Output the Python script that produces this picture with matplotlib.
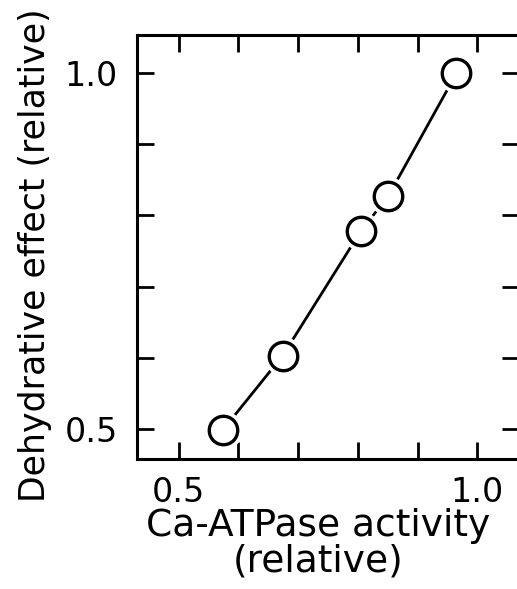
import matplotlib
matplotlib.use("Agg")
import matplotlib.pyplot as plt
from matplotlib.ticker import MultipleLocator, FixedLocator

# relative Ca-ATPase activity vs relative dehydrative effect
atpase = [0.574, 0.674, 0.805, 0.851, 0.965]
dehydr = [0.499, 0.603, 0.778, 0.827, 0.999]
tick_vals = [0.5, 1.0]
tick_labels = ["0.5", "1.0"]

plt.rcParams["font.family"] = "DejaVu Sans"

fig = plt.figure(figsize=(5.17, 5.89), dpi=100)
ax = fig.add_axes([0.265, 0.2207, 0.739, 0.7199])

# line first, then white halo so the line stops short of each circle
ax.plot(atpase, dehydr, color="black", lw=2.0, zorder=2)
ax.plot(atpase, dehydr, ls="none", marker="o", ms=28, mfc="white",
        mec="white", mew=0, zorder=3)
ax.plot(atpase, dehydr, ls="none", marker="o", ms=20.5, mfc="white",
        mec="black", mew=2.4, zorder=4)

ax.set_xlim(0.43, 1.07)
ax.set_ylim(0.458, 1.053)

for a in (ax.xaxis, ax.yaxis):
    a.set_major_locator(FixedLocator(tick_vals))
    a.set_minor_locator(MultipleLocator(0.1))
ax.set_xticklabels(tick_labels)
ax.set_yticklabels(tick_labels)

ax.tick_params(which="both", direction="in", top=True, right=True,
               length=12, width=2.0, labelsize=24)
ax.tick_params(axis="x", which="major", pad=12)
ax.tick_params(axis="y", which="major", pad=14)
for s in ax.spines.values():
    s.set_linewidth(2.2)

ax.set_xlabel("Ca-ATPase activity\n(relative)", fontsize=27, linespacing=0.98)
ax.set_ylabel("Dehydrative effect (relative)", fontsize=25)
ax.xaxis.set_label_coords(0.474, -0.115)
ax.yaxis.set_label_coords(-0.222, 0.481)

fig.savefig("out.png", dpi=100)
